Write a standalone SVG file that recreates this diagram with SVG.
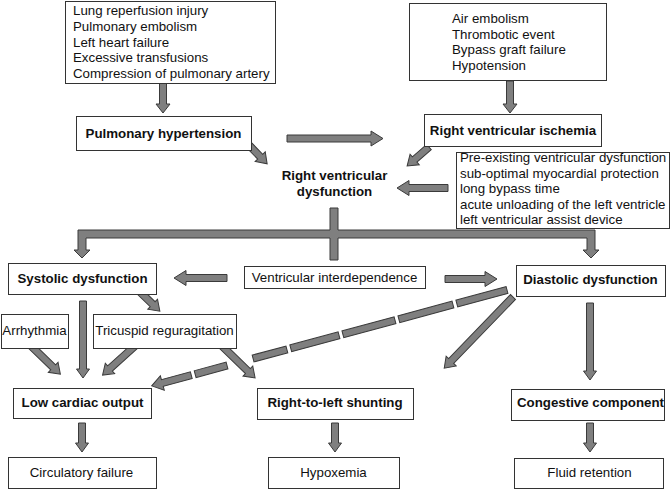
<svg xmlns="http://www.w3.org/2000/svg" width="672" height="490" viewBox="0 0 672 490">
<style>
.box{fill:#fff;stroke:#333;stroke-width:1}
.t{font-family:"Liberation Sans",Arial,sans-serif;font-size:13.3px;fill:#111}
.b{font-weight:bold;text-anchor:middle}
.c{text-anchor:middle}
.arr{fill:#7f7f7f;stroke:#3a3a3a;stroke-width:1;stroke-linejoin:miter}
</style>
<rect width="672" height="490" fill="#fff"/>
<g id="connectors">
<path class="arr" transform="translate(163,83) rotate(90)" d="M0,-3.5 H21 V-7 L30,0 L21,7 V3.5 H0 Z"/>
<path class="arr" transform="translate(510,81) rotate(90)" d="M0,-3.5 H23 V-7 L32,0 L23,7 V3.5 H0 Z"/>
<path class="arr" transform="translate(287,138.5)" d="M0,-3.5 H84 V-7.5 L96,0 L84,7.5 V3.5 H0 Z"/>
<path class="arr" transform="translate(247,143) rotate(46)" d="M0,-3.5 H19 V-7 L29,0 L19,7 V3.5 H0 Z"/>
<path class="arr" transform="translate(429,147) rotate(139)" d="M0,-3.5 H19 V-7 L29,0 L19,7 V3.5 H0 Z"/>
<path class="arr" transform="translate(448,188) rotate(180)" d="M0,-3.5 H39 V-7.5 L51,0 L39,7.5 V3.5 H0 Z"/>
<path class="arr" d="M78,230 H330 V208 H338 V230 H595 V250 H599 L591,258 L583,250 H587 V238 H338 V260 H330 V238 H86 V250 H90 L82,258 L74,250 H78 Z"/>
<path class="arr" transform="translate(227,278) rotate(180)" d="M0,-3.5 H41 V-7.5 L53,0 L41,7.5 V3.5 H0 Z"/>
<path class="arr" transform="translate(445,279)" d="M0,-3.5 H40 V-7.5 L52,0 L40,7.5 V3.5 H0 Z"/>
<path class="arr" transform="translate(139,291) rotate(44)" d="M0,-3.5 H19 V-7 L29,0 L19,7 V3.5 H0 Z"/>
<path class="arr" transform="translate(83,301) rotate(90)" d="M0,-3.5 H68 V-6.5 L77,0 L68,6.5 V3.5 H0 Z"/>
<path class="arr" transform="translate(28,343) rotate(44)" d="M0,-3.5 H35 V-7 L45,0 L35,7 V3.5 H0 Z"/>
<path class="arr" transform="translate(136,345) rotate(138)" d="M0,-3.5 H35 V-7 L45,0 L35,7 V3.5 H0 Z"/>
<path class="arr" transform="translate(222,346) rotate(44)" d="M0,-3.5 H36 V-7 L46,0 L36,7 V3.5 H0 Z"/>
<g transform="translate(507,290) rotate(164.9)">
<rect class="arr" x="0" y="-3.5" width="52" height="7"/>
<rect class="arr" x="56" y="-3.5" width="56" height="7"/>
<rect class="arr" x="116" y="-3.5" width="54" height="7"/>
<rect class="arr" x="174" y="-3.5" width="50" height="7"/>
<rect class="arr" x="228" y="-3.5" width="35" height="7"/>
<rect class="arr" x="290" y="-3.5" width="33" height="7"/>
<path class="arr" d="M327,-3.5 H357 V-7.5 L368,0 L357,7.5 V3.5 H327 Z"/>
</g>
<path class="arr" transform="translate(513,297) rotate(134)" d="M0,-3.5 H89 V-7 L99,0 L89,7 V3.5 H0 Z"/>
<path class="arr" transform="translate(590,303) rotate(90)" d="M0,-3.5 H68 V-6.5 L77,0 L68,6.5 V3.5 H0 Z"/>
<path class="arr" transform="translate(82,423) rotate(90)" d="M0,-3.5 H20 V-6.5 L29,0 L20,6.5 V3.5 H0 Z"/>
<path class="arr" transform="translate(335,423) rotate(90)" d="M0,-3.5 H20 V-6.5 L29,0 L20,6.5 V3.5 H0 Z"/>
<path class="arr" transform="translate(590,423) rotate(90)" d="M0,-3.5 H20 V-6.5 L29,0 L20,6.5 V3.5 H0 Z"/>
</g>
<g id="causes-ph">
<rect class="box" x="65.5" y="1.5" width="210" height="82"/>
<text class="t" x="73" y="15">Lung reperfusion injury</text>
<text class="t" x="73" y="31">Pulmonary embolism</text>
<text class="t" x="73" y="46.5">Left heart failure</text>
<text class="t" x="73" y="62">Excessive transfusions</text>
<text class="t" x="73" y="78">Compression of pulmonary artery</text>
</g>
<g id="causes-ischemia">
<rect class="box" x="409.5" y="3.5" width="197" height="77"/>
<text class="t" x="452" y="23">Air embolism</text>
<text class="t" x="452" y="38.7">Thrombotic event</text>
<text class="t" x="452" y="54.3">Bypass graft failure</text>
<text class="t" x="452" y="70">Hypotension</text>
</g>
<g id="pulmonary-hypertension">
<rect class="box" x="76.5" y="116.5" width="175" height="34"/>
<text class="t b" x="163.5" y="137.5">Pulmonary hypertension</text>
</g>
<g id="rv-ischemia">
<rect class="box" x="424.5" y="114.5" width="177" height="32"/>
<text class="t b" x="513" y="135">Right ventricular ischemia</text>
</g>
<g id="rv-dysfunction">
<text class="t b" x="334.5" y="180">Right ventricular</text>
<text class="t b" x="334.5" y="196">dysfunction</text>
</g>
<g id="other-causes">
<rect class="box" x="456.5" y="152.5" width="213" height="76"/>
<text class="t" x="460" y="162">Pre-existing ventricular dysfunction</text>
<text class="t" x="460" y="177.5">sub-optimal myocardial protection</text>
<text class="t" x="460" y="193">long bypass time</text>
<text class="t" x="460" y="208.5">acute unloading of the left ventricle</text>
<text class="t" x="460" y="224">left ventricular assist device</text>
</g>
<g id="systolic">
<rect class="box" x="8.5" y="263.5" width="148" height="31"/>
<text class="t b" x="82.5" y="283">Systolic dysfunction</text>
</g>
<g id="interdependence">
<rect class="box" x="244.5" y="266.5" width="181" height="22"/>
<text class="t c" x="334.5" y="282">Ventricular interdependence</text>
</g>
<g id="diastolic">
<rect class="box" x="516.5" y="265.5" width="149" height="31"/>
<text class="t b" x="590.5" y="284">Diastolic dysfunction</text>
</g>
<g id="arrhythmia">
<rect class="box" x="1.5" y="314.5" width="67" height="34"/>
<text class="t c" x="34.5" y="335">Arrhythmia</text>
</g>
<g id="tricuspid">
<rect class="box" x="93.5" y="314.5" width="143" height="34"/>
<text class="t c" x="164.5" y="335">Tricuspid reguragitation</text>
</g>
<g id="low-output">
<rect class="box" x="13.5" y="388.5" width="138" height="30"/>
<text class="t b" x="82.5" y="407">Low cardiac output</text>
</g>
<g id="shunting">
<rect class="box" x="257.5" y="388.5" width="156" height="31"/>
<text class="t b" x="335" y="407">Right-to-left shunting</text>
</g>
<g id="congestive">
<rect class="box" x="511.5" y="389.5" width="153" height="31"/>
<text class="t b" x="590.5" y="407">Congestive component</text>
</g>
<g id="circulatory">
<rect class="box" x="8.5" y="457.5" width="148" height="31"/>
<text class="t c" x="81.5" y="477">Circulatory failure</text>
</g>
<g id="hypoxemia">
<rect class="box" x="268.5" y="457.5" width="131" height="31"/>
<text class="t c" x="333.5" y="477">Hypoxemia</text>
</g>
<g id="fluid">
<rect class="box" x="514.5" y="458.5" width="149" height="30"/>
<text class="t c" x="589.5" y="477">Fluid retention</text>
</g>
</svg>
